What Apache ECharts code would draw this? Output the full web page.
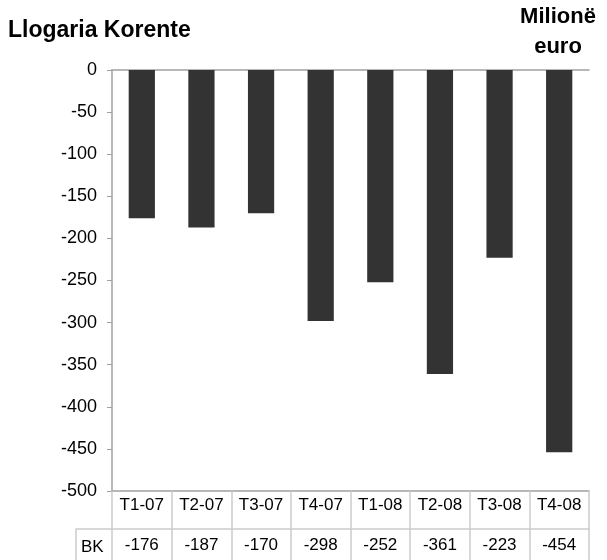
<!DOCTYPE html>
<html>
<head>
<meta charset="utf-8">
<script src="https://cdn.jsdelivr.net/npm/echarts@6/dist/echarts.min.js"></script>
<style>
  html, body { margin: 0; padding: 0; background: #fff; }
  #chart { width: 607px; height: 560px; }
</style>
</head>
<body>
<div id="chart"></div>
<script>
const categories = ['T1-07', 'T2-07', 'T3-07', 'T4-07', 'T1-08', 'T2-08', 'T3-08', 'T4-08'];
const bkValues = [-176, -187, -170, -298, -252, -361, -223, -454];
const seriesName = 'BK';

const font = 'Liberation Sans, Arial, sans-serif';
const axisGray = '#a0a0a0';
const tableGray = '#cccccc';

const chart = echarts.init(document.getElementById('chart'), null, { renderer: 'canvas' });

// header texts
const headStyle = (text) => ({
  text, fontFamily: font, fontSize: 22, fontWeight: 'bold', fill: '#000',
});

chart.setOption({
  animation: false,
  textStyle: { fontFamily: font },
  grid: { left: 112, right: 18, top: 70, bottom: 69 },
  xAxis: [
    {
      // axis line at zero (top)
      type: 'category',
      position: 'top',
      data: categories,
      axisLine: { show: true, lineStyle: { color: axisGray, width: 1.5 } },
      axisTick: { show: false },
      axisLabel: { show: false }
    },
    {
      // table row 1: categories
      type: 'category',
      position: 'bottom',
      data: categories,
      axisLine: { show: true, lineStyle: { color: axisGray, width: 1.5 } },
      axisTick: { show: true, interval: 0, length: 69, lineStyle: { color: tableGray, width: 1.5 } },
      axisLabel: { interval: 0, hideOverlap: false, margin: 6, fontSize: 17, color: '#000', fontFamily: font }
    },
    {
      // table row 2: values
      type: 'category',
      position: 'bottom',
      offset: 38,
      data: categories,
      axisLine: { show: true, lineStyle: { color: tableGray, width: 1.5 } },
      axisTick: { show: false },
      axisLabel: {
        interval: 0, hideOverlap: false, margin: 8, fontSize: 17, color: '#000', fontFamily: font,
        formatter: (v, i) => String(bkValues[i])
      }
    }
  ],
  yAxis: {
    type: 'value',
    min: -500,
    max: 0,
    interval: 50,
    axisLine: { show: true, lineStyle: { color: axisGray, width: 1.5 } },
    axisTick: { show: true, length: 5, lineStyle: { color: axisGray } },
    axisLabel: { margin: 15, fontSize: 18, color: '#000', fontFamily: font },
    splitLine: { show: false }
  },
  graphic: [
    { type: 'text', x: 8, y: 31, style: { ...headStyle('Llogaria Korente'), fontSize: 23, textVerticalAlign: 'middle' } },
    { type: 'text', x: 558, y: 17, style: { ...headStyle('Milionë'), textAlign: 'center', textVerticalAlign: 'middle' } },
    { type: 'text', x: 558, y: 47, style: { ...headStyle('euro'), textAlign: 'center', textVerticalAlign: 'middle' } },
    {
      type: 'polyline',
      shape: { points: [[112, 529], [76, 529], [76, 560]] },
      style: { stroke: tableGray, lineWidth: 1.5, fill: null }
    },
    {
      type: 'text', x: 81, y: 547,
      style: { text: seriesName, fontSize: 17, fontFamily: font, fill: '#000', textVerticalAlign: 'middle' }
    }
  ],
  series: [
    {
      name: seriesName,
      type: 'bar',
      xAxisIndex: 1,
      data: bkValues,
      barWidth: '44%',
      itemStyle: { color: '#333333' }
    }
  ]
});
</script>
</body>
</html>
